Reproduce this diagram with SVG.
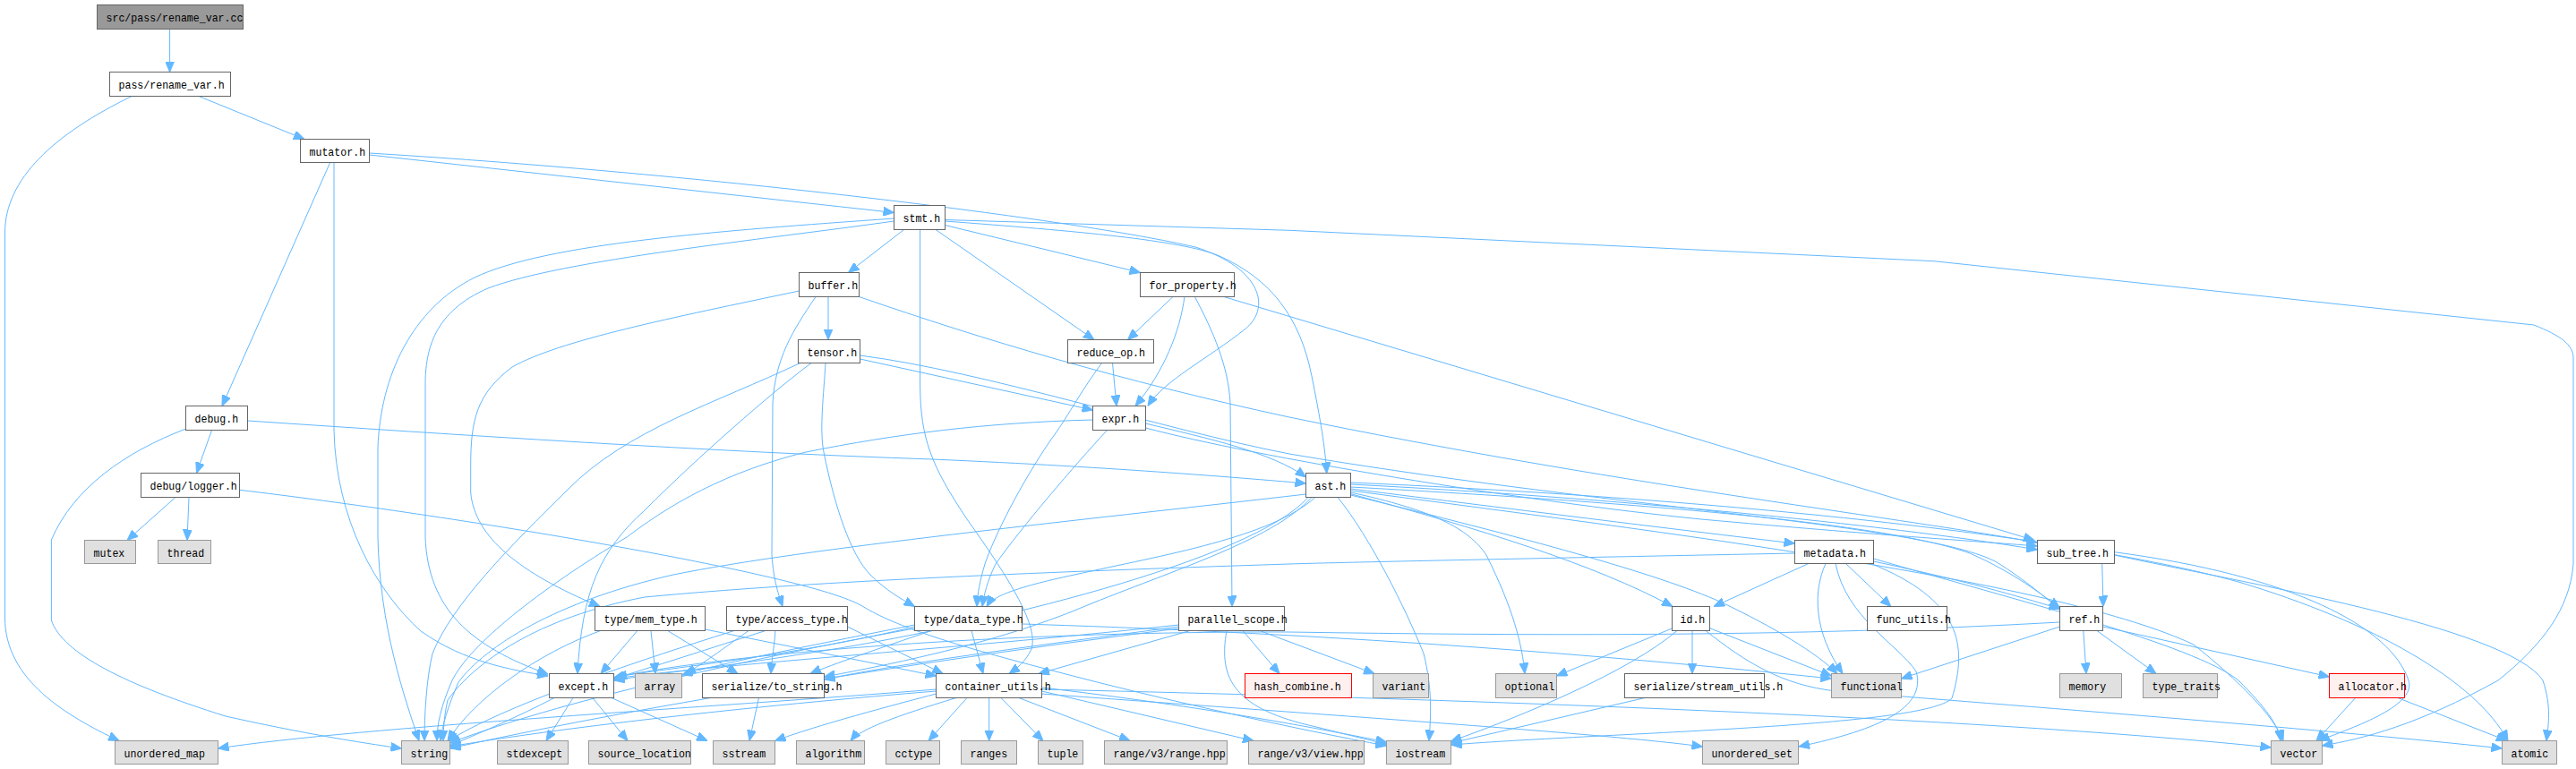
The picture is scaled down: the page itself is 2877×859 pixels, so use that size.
<svg xmlns="http://www.w3.org/2000/svg" width="2877" height="859" viewBox="0 0 2877 859">
<style>
rect{stroke-width:1}
.n rect{fill:#ffffff;stroke:#666666}
.g rect{fill:#e0e0e0;stroke:#999999}
.r rect{fill:#fff0f0;stroke:#ff0000}
.root rect{fill:#999999;stroke:#666666}
text{font-family:"Liberation Mono","DejaVu Sans Mono",monospace;font-size:13px;fill:#000000}
#edges path{fill:none;stroke:#63b8ff;stroke-width:1;marker-end:url(#a)}
</style>
<defs>
<marker id="a" viewBox="0 0 12 10" refX="12" refY="5" markerWidth="12" markerHeight="10" markerUnits="userSpaceOnUse" orient="auto"><path d="M0,0 L12,5 L0,10 z" fill="#63b8ff" stroke="#63b8ff"/></marker>
</defs>
<rect x="0" y="0" width="2877" height="859" fill="#ffffff"/>
<g id="edges">
<path d="M189.6,32.5 L189.6,80.5"/>
<path d="M222,107.5 L340,155.5"/>
<path d="M147,107.5 C60,150 5.5,200 5.5,260 L5.5,690 C5.5,760 75,800 133,827.5"/>
<path d="M412.5,173 L998.5,237.5"/>
<path d="M412.5,171 C800,195 1200,245 1335,276 C1410,300 1420,345 1390,368 C1350,400 1300,425 1282,453.5"/>
<path d="M368.7,181.5 L248,453.5"/>
<path d="M373,181.5 L373,480 C375,580 420,660 470,705 C520,740 570,748 612,755"/>
<path d="M998.5,244 C800,258 610,272 530,310 C460,345 425,420 422,500 L422,600 C424,700 452,780 468,827.5"/>
<path d="M998.5,247 C850,268 630,290 545,322 C485,348 475,390 475,430 L475,600 C478,680 525,722 612,753"/>
<path d="M1009.6,256.5 L947.5,304.5"/>
<path d="M1027.6,256.5 L1027.6,430 C1028,490 1040,520 1080,580 C1130,650 1160,700 1152,725 C1145,740 1135,747 1127,752.5"/>
<path d="M1045,256.5 L1222,379.5"/>
<path d="M1055.5,251.5 L1273.5,304.5"/>
<path d="M1055.5,247 C1200,258 1320,268 1362,286 C1420,312 1452,355 1465,420 C1475,470 1480,500 1481.7,528.5"/>
<path d="M1055.5,245.5 L1440,257.3 L2160,291.7 L2830,363 C2860,375 2874,385 2874,400 L2874,630 C2870,680 2840,720 2790,760 C2700,810 2640,825 2593.5,833"/>
<path d="M925,331.5 L925,379.5"/>
<path d="M911,331.5 C885,370 866,400 863,450 L862,620 C864,650 870,665 874,677.5"/>
<path d="M892.5,325 C750,355 625,380 572,410 C532,440 525.7,470 525.7,520 L525.7,550 C530,600 580,640 670,677.5"/>
<path d="M959.5,331.5 C1100,380 1250,425 1440,466 C1800,540 2100,575 2275.5,606"/>
<path d="M960.5,401 L1220.5,458"/>
<path d="M960.5,397 C1100,415 1300,480 1440,507 C1800,568 2150,585 2230,628 C2262,648 2285,668 2300.5,681"/>
<path d="M893.6,405.5 C800,450 700,480 634,547 C570,610 505,675 483,730 C476,760 474,800 474,827.5"/>
<path d="M906,405.5 C860,440 780,510 720,570 C670,615 650,660 645,752.5"/>
<path d="M922,405.5 C920,440 915,480 920,505 C932,565 950,620 972,642 C990,660 1005,668 1021.5,677.5"/>
<path d="M1310,331.5 L1259.5,379.5"/>
<path d="M1322.9,331.5 C1318,370 1300,415 1268,453.5"/>
<path d="M1334.4,331.5 C1355,370 1372,410 1374,450 L1376,677.5"/>
<path d="M1367,331.5 L2272,603.5"/>
<path d="M1242.5,405.5 L1247,453.5"/>
<path d="M1230.6,405.5 C1205,440 1190,470 1174.5,490 C1140,540 1110,600 1100,630 C1094,650 1092,662 1091,677.5"/>
<path d="M1236.5,480.5 C1200,520 1140,590 1112,630 C1102,650 1099,665 1097,677.5"/>
<path d="M1279.5,473 C1350,490 1420,505 1458.5,533"/>
<path d="M276.5,470 C500,485 800,505 1041,513 C1250,522 1400,535 1458.5,540"/>
<path d="M1279.5,478 C1400,510 1700,560 1900,580 C2100,598 2200,604 2275.5,610"/>
<path d="M1220.5,469 C1100,472 1000,485 900,505 C800,530 740,570 700,600 C600,660 525,720 505,760 C492,790 488,810 488,827.5"/>
<path d="M207.5,479 C140,505 82,545 57.4,603 L57.4,693 C70,730 140,765 252,800 C350,822 420,832 448.5,836"/>
<path d="M236.5,480.5 L219.5,528.5"/>
<path d="M196,555.5 L142,603.5"/>
<path d="M211,555.5 L209,603.5"/>
<path d="M267.5,547.3 C500,575 900,640 963,677 C1000,700 1070,722 1179,750 C1300,782 1450,815 1548.5,833"/>
<path d="M1468.9,555.5 C1420,600 1300,620 1200,642 C1130,657 1108,667 1102,677.5"/>
<path d="M1465,555.5 C1420,605 1300,640 1200,682 C1100,722 980,745 920.5,756"/>
<path d="M1461,555.5 C1400,625 1100,700 900,730 C800,746 720,754 685.5,760"/>
<path d="M1458.5,552 C1200,582 900,612 752,642 C620,672 542,722 512,762 C500,790 494,810 492,827.5"/>
<path d="M1494,555.5 C1530,600 1570,680 1590,730 C1600,770 1598,800 1596,827.5"/>
<path d="M1508.5,550 C1600,570 1640,590 1660,620 C1690,680 1700,720 1703,752.5"/>
<path d="M1508.5,551.7 C1650,590 1780,630 1868,677.5"/>
<path d="M1508.5,553 C1700,600 1850,640 1923,673 C1980,700 2030,730 2052,752.5"/>
<path d="M1508.5,546 C1700,570 1900,595 2004.5,607"/>
<path d="M1508.5,541 C1800,556 2100,585 2275.5,614"/>
<path d="M1508.5,544 C1800,560 2100,582 2200,618 C2250,640 2280,664 2300.5,679"/>
<path d="M1508.5,539 C1900,556 2300,595 2500,650 C2650,695 2765,760 2801,827.5"/>
<path d="M1508.5,548 C1900,600 2300,650 2450,720 C2500,760 2540,800 2550,827.5"/>
<path d="M2019.9,629.5 L1914,677.5"/>
<path d="M2061.5,629.5 L2111.9,677.5"/>
<path d="M2039,629.5 C2025,660 2025,705 2058,752.5"/>
<path d="M2050,629.5 C2062,690 2120,720 2140,750 C2152,790 2100,815 2009,834"/>
<path d="M2089.5,629.5 C2190,670 2198,720 2180,780 C2150,812 1800,818 1620.5,832"/>
<path d="M2092.5,627 C2200,650 2250,665 2300.5,680"/>
<path d="M2092.5,624 C2250,670 2450,720 2500,760 C2530,790 2545,810 2547,827.5"/>
<path d="M2004.5,618 C1800,622 1500,628 1440,630 C1133,640 900,650 720,667 C600,690 530,740 500,782 C496,800 495,815 495,827.5"/>
<path d="M1868,701.7 L1738.5,755"/>
<path d="M1890,704.5 L1890,752.5"/>
<path d="M1873,704.5 C1820,750 1700,800 1620.5,828"/>
<path d="M1909.5,701.7 L2045.5,755"/>
<path d="M1905,704.5 C1950,740 1990,765 2050,772 C2300,792 2600,815 2794.5,836"/>
<path d="M1837,779.5 L1620.5,830"/>
<path d="M2347.7,629.5 L2349,677.5"/>
<path d="M2361.5,616.7 C2560,643 2670,700 2690,760 C2700,790 2620,815 2590,827.5"/>
<path d="M2361.5,620 C2500,650 2800,700 2840,760 C2850,790 2846,810 2844,827.5"/>
<path d="M2326.8,704.5 L2330,752.5"/>
<path d="M2342,704.5 L2408,752.5"/>
<path d="M2348.5,700 L2601.5,756"/>
<path d="M2300.5,700 L2123.5,758"/>
<path d="M2300.5,695 C2000,712 1700,710 1440,706 C1100,705 800,732 685.5,757"/>
<path d="M2630.7,779.5 L2587,827.5"/>
<path d="M2678,779.5 L2800,827.5"/>
<path d="M640,779.5 L610,827.5"/>
<path d="M661.8,779.5 L701,827.5"/>
<path d="M619,779.5 C580,800 540,817 502.5,833"/>
<path d="M683,779.5 L790,827.5"/>
<path d="M847.5,779.5 L837,827.5"/>
<path d="M711.8,704.5 L671,752.5"/>
<path d="M727,704.5 L732,752.5"/>
<path d="M745.7,704.5 L824,752.5"/>
<path d="M670.7,704.5 C600,730 530,780 500,827.5"/>
<path d="M787.5,703 L1045.5,755"/>
<path d="M855,704.5 C800,722 720,748 685.5,758"/>
<path d="M836,704.5 C800,730 780,745 765,752.5"/>
<path d="M866,704.5 C865,720 862,735 861,752.5"/>
<path d="M946.5,700 L1053,752.5"/>
<path d="M820,704.5 C700,742 560,790 500,828"/>
<path d="M1085,704.5 L1098,752.5"/>
<path d="M1040,704.5 C980,725 930,742 905,752.5"/>
<path d="M1021.5,700 C900,730 750,746 688,756"/>
<path d="M1021.5,698 C900,722 800,742 761.5,754"/>
<path d="M1141.5,697 C1400,705 1700,722 2045.5,758"/>
<path d="M1021.5,702 C800,742 600,792 502.5,830"/>
<path d="M1388,704.5 L1429,752.5"/>
<path d="M1407,704.5 L1535,752.5"/>
<path d="M1329,704.5 L1160,752.5"/>
<path d="M1370,704.5 C1360,760 1380,792 1470,812 C1510,822 1530,827 1548.5,831"/>
<path d="M1316.5,700 C1150,722 1000,742 920.5,759"/>
<path d="M1316.5,698 C1100,722 800,742 686,758"/>
<path d="M1316.5,702 C1000,742 700,792 502.5,836"/>
<path d="M1068,779.5 C1000,800 960,815 950,827.5"/>
<path d="M1080,779.5 L1037,827.5"/>
<path d="M1104.7,779.5 L1104.7,827.5"/>
<path d="M1118,779.5 L1165,827.5"/>
<path d="M1138,779.5 L1262,827.5"/>
<path d="M1163.5,772 L1400,827.5"/>
<path d="M1163.5,768 C1350,790 1480,815 1548.5,829"/>
<path d="M1163.5,775 C1500,800 1800,820 1901.5,834"/>
<path d="M1163.5,770 C1600,780 2200,800 2536.5,835"/>
<path d="M1045.5,775 C950,800 900,815 865.5,827.5"/>
<path d="M1045.5,770 C800,790 400,812 243.5,836"/>
<path d="M1045.5,772 C800,792 600,817 502.5,834"/>
</g>
<g id="n_rename_var_cc" class="root"><rect x="108.5" y="5.5" width="163" height="27"/><text x="118.5" y="23.5" textLength="152.9" lengthAdjust="spacingAndGlyphs">src/pass/rename_var.cc</text></g>
<g id="n_rename_var_h" class="n"><rect x="122.5" y="80.5" width="135" height="27"/><text x="132.5" y="98.5" textLength="118.2" lengthAdjust="spacingAndGlyphs">pass/rename_var.h</text></g>
<g id="n_mutator" class="n"><rect x="335.5" y="155.5" width="77" height="26"/><text x="345.5" y="173.5" textLength="62.6" lengthAdjust="spacingAndGlyphs">mutator.h</text></g>
<g id="n_stmt" class="n"><rect x="998.5" y="229.5" width="57" height="27"/><text x="1008.5" y="247.5" textLength="41.7" lengthAdjust="spacingAndGlyphs">stmt.h</text></g>
<g id="n_buffer" class="n"><rect x="892.5" y="304.5" width="67" height="27"/><text x="902.5" y="322.5" textLength="55.6" lengthAdjust="spacingAndGlyphs">buffer.h</text></g>
<g id="n_for_property" class="n"><rect x="1273.5" y="304.5" width="105" height="27"/><text x="1283.5" y="322.5" textLength="97.3" lengthAdjust="spacingAndGlyphs">for_property.h</text></g>
<g id="n_tensor" class="n"><rect x="891.5" y="379.5" width="69" height="26"/><text x="901.5" y="397.5" textLength="55.6" lengthAdjust="spacingAndGlyphs">tensor.h</text></g>
<g id="n_reduce_op" class="n"><rect x="1192.5" y="379.5" width="96" height="26"/><text x="1202.5" y="397.5" textLength="76.5" lengthAdjust="spacingAndGlyphs">reduce_op.h</text></g>
<g id="n_debug" class="n"><rect x="207.5" y="453.5" width="69" height="27"/><text x="217.5" y="471.5" textLength="48.7" lengthAdjust="spacingAndGlyphs">debug.h</text></g>
<g id="n_expr" class="n"><rect x="1220.5" y="453.5" width="59" height="27"/><text x="1230.5" y="471.5" textLength="41.7" lengthAdjust="spacingAndGlyphs">expr.h</text></g>
<g id="n_logger" class="n"><rect x="157.5" y="528.5" width="110" height="27"/><text x="167.5" y="546.5" textLength="97.3" lengthAdjust="spacingAndGlyphs">debug/logger.h</text></g>
<g id="n_ast" class="n"><rect x="1458.5" y="528.5" width="50" height="27"/><text x="1468.5" y="546.5" textLength="34.8" lengthAdjust="spacingAndGlyphs">ast.h</text></g>
<g id="n_mutex" class="g"><rect x="94.5" y="603.5" width="57" height="26"/><text x="104.5" y="621.5" textLength="34.8" lengthAdjust="spacingAndGlyphs">mutex</text></g>
<g id="n_thread" class="g"><rect x="176.5" y="603.5" width="59" height="26"/><text x="186.5" y="621.5" textLength="41.7" lengthAdjust="spacingAndGlyphs">thread</text></g>
<g id="n_metadata" class="n"><rect x="2004.5" y="603.5" width="88" height="26"/><text x="2014.5" y="621.5" textLength="69.5" lengthAdjust="spacingAndGlyphs">metadata.h</text></g>
<g id="n_sub_tree" class="n"><rect x="2275.5" y="603.5" width="86" height="26"/><text x="2285.5" y="621.5" textLength="69.5" lengthAdjust="spacingAndGlyphs">sub_tree.h</text></g>
<g id="n_mem_type" class="n"><rect x="664.5" y="677.5" width="123" height="27"/><text x="674.5" y="695.5" textLength="104.3" lengthAdjust="spacingAndGlyphs">type/mem_type.h</text></g>
<g id="n_access_type" class="n"><rect x="811.5" y="677.5" width="135" height="27"/><text x="821.5" y="695.5" textLength="125.1" lengthAdjust="spacingAndGlyphs">type/access_type.h</text></g>
<g id="n_data_type" class="n"><rect x="1021.5" y="677.5" width="120" height="27"/><text x="1031.5" y="695.5" textLength="111.2" lengthAdjust="spacingAndGlyphs">type/data_type.h</text></g>
<g id="n_parallel_scope" class="n"><rect x="1316.5" y="677.5" width="118" height="27"/><text x="1326.5" y="695.5" textLength="111.2" lengthAdjust="spacingAndGlyphs">parallel_scope.h</text></g>
<g id="n_id" class="n"><rect x="1867.5" y="677.5" width="42" height="27"/><text x="1876.5" y="695.5" textLength="27.8" lengthAdjust="spacingAndGlyphs">id.h</text></g>
<g id="n_func_utils" class="n"><rect x="2085.5" y="677.5" width="89" height="27"/><text x="2095.5" y="695.5" textLength="83.4" lengthAdjust="spacingAndGlyphs">func_utils.h</text></g>
<g id="n_ref" class="n"><rect x="2300.5" y="677.5" width="48" height="27"/><text x="2310.5" y="695.5" textLength="34.8" lengthAdjust="spacingAndGlyphs">ref.h</text></g>
<g id="n_except" class="n"><rect x="613.5" y="752.5" width="72" height="27"/><text x="623.5" y="770.5" textLength="55.6" lengthAdjust="spacingAndGlyphs">except.h</text></g>
<g id="n_array" class="g"><rect x="709.5" y="752.5" width="52" height="27"/><text x="719.5" y="770.5" textLength="34.8" lengthAdjust="spacingAndGlyphs">array</text></g>
<g id="n_to_string" class="n"><rect x="784.5" y="752.5" width="136" height="27"/><text x="794.5" y="770.5" textLength="146" lengthAdjust="spacingAndGlyphs">serialize/to_string.h</text></g>
<g id="n_container_utils" class="n"><rect x="1045.5" y="752.5" width="118" height="27"/><text x="1055.5" y="770.5" textLength="118.2" lengthAdjust="spacingAndGlyphs">container_utils.h</text></g>
<g id="n_hash_combine" class="r"><rect x="1390.5" y="752.5" width="119" height="27"/><text x="1400.5" y="770.5" textLength="97.3" lengthAdjust="spacingAndGlyphs">hash_combine.h</text></g>
<g id="n_variant" class="g"><rect x="1533.5" y="752.5" width="62" height="27"/><text x="1543.5" y="770.5" textLength="48.7" lengthAdjust="spacingAndGlyphs">variant</text></g>
<g id="n_optional" class="g"><rect x="1670.5" y="752.5" width="68" height="27"/><text x="1680.5" y="770.5" textLength="55.6" lengthAdjust="spacingAndGlyphs">optional</text></g>
<g id="n_stream_utils" class="n"><rect x="1814.5" y="752.5" width="156" height="27"/><text x="1824.5" y="770.5" textLength="166.8" lengthAdjust="spacingAndGlyphs">serialize/stream_utils.h</text></g>
<g id="n_functional" class="g"><rect x="2045.5" y="752.5" width="78" height="27"/><text x="2055.5" y="770.5" textLength="69.5" lengthAdjust="spacingAndGlyphs">functional</text></g>
<g id="n_memory" class="g"><rect x="2300.5" y="752.5" width="69" height="27"/><text x="2310.5" y="770.5" textLength="41.7" lengthAdjust="spacingAndGlyphs">memory</text></g>
<g id="n_type_traits" class="g"><rect x="2393.5" y="752.5" width="83" height="27"/><text x="2403.5" y="770.5" textLength="76.5" lengthAdjust="spacingAndGlyphs">type_traits</text></g>
<g id="n_allocator" class="r"><rect x="2601.5" y="752.5" width="84" height="27"/><text x="2611.5" y="770.5" textLength="76.5" lengthAdjust="spacingAndGlyphs">allocator.h</text></g>
<g id="n_unordered_map" class="g"><rect x="128.5" y="827.5" width="115" height="26"/><text x="138.5" y="845.5" textLength="90.4" lengthAdjust="spacingAndGlyphs">unordered_map</text></g>
<g id="n_string" class="g"><rect x="448.5" y="827.5" width="54" height="26"/><text x="458.5" y="845.5" textLength="41.7" lengthAdjust="spacingAndGlyphs">string</text></g>
<g id="n_stdexcept" class="g"><rect x="555.5" y="827.5" width="79" height="26"/><text x="565.5" y="845.5" textLength="62.6" lengthAdjust="spacingAndGlyphs">stdexcept</text></g>
<g id="n_source_location" class="g"><rect x="657.5" y="827.5" width="114" height="26"/><text x="667.5" y="845.5" textLength="104.3" lengthAdjust="spacingAndGlyphs">source_location</text></g>
<g id="n_sstream" class="g"><rect x="796.5" y="827.5" width="69" height="26"/><text x="806.5" y="845.5" textLength="48.7" lengthAdjust="spacingAndGlyphs">sstream</text></g>
<g id="n_algorithm" class="g"><rect x="889.5" y="827.5" width="76" height="26"/><text x="899.5" y="845.5" textLength="62.6" lengthAdjust="spacingAndGlyphs">algorithm</text></g>
<g id="n_cctype" class="g"><rect x="989.5" y="827.5" width="60" height="26"/><text x="999.5" y="845.5" textLength="41.7" lengthAdjust="spacingAndGlyphs">cctype</text></g>
<g id="n_ranges" class="g"><rect x="1073.5" y="827.5" width="62" height="26"/><text x="1083.5" y="845.5" textLength="41.7" lengthAdjust="spacingAndGlyphs">ranges</text></g>
<g id="n_tuple" class="g"><rect x="1159.5" y="827.5" width="50" height="26"/><text x="1169.5" y="845.5" textLength="34.8" lengthAdjust="spacingAndGlyphs">tuple</text></g>
<g id="n_range_hpp" class="g"><rect x="1233.5" y="827.5" width="137" height="26"/><text x="1243.5" y="845.5" textLength="125.1" lengthAdjust="spacingAndGlyphs">range/v3/range.hpp</text></g>
<g id="n_view_hpp" class="g"><rect x="1394.5" y="827.5" width="129" height="26"/><text x="1404.5" y="845.5" textLength="118.2" lengthAdjust="spacingAndGlyphs">range/v3/view.hpp</text></g>
<g id="n_iostream" class="g"><rect x="1548.5" y="827.5" width="72" height="26"/><text x="1558.5" y="845.5" textLength="55.6" lengthAdjust="spacingAndGlyphs">iostream</text></g>
<g id="n_unordered_set" class="g"><rect x="1901.5" y="827.5" width="107" height="26"/><text x="1911.5" y="845.5" textLength="90.4" lengthAdjust="spacingAndGlyphs">unordered_set</text></g>
<g id="n_vector" class="g"><rect x="2536.5" y="827.5" width="57" height="26"/><text x="2546.5" y="845.5" textLength="41.7" lengthAdjust="spacingAndGlyphs">vector</text></g>
<g id="n_atomic" class="g"><rect x="2794.5" y="827.5" width="61" height="26"/><text x="2804.5" y="845.5" textLength="41.7" lengthAdjust="spacingAndGlyphs">atomic</text></g>
</svg>
